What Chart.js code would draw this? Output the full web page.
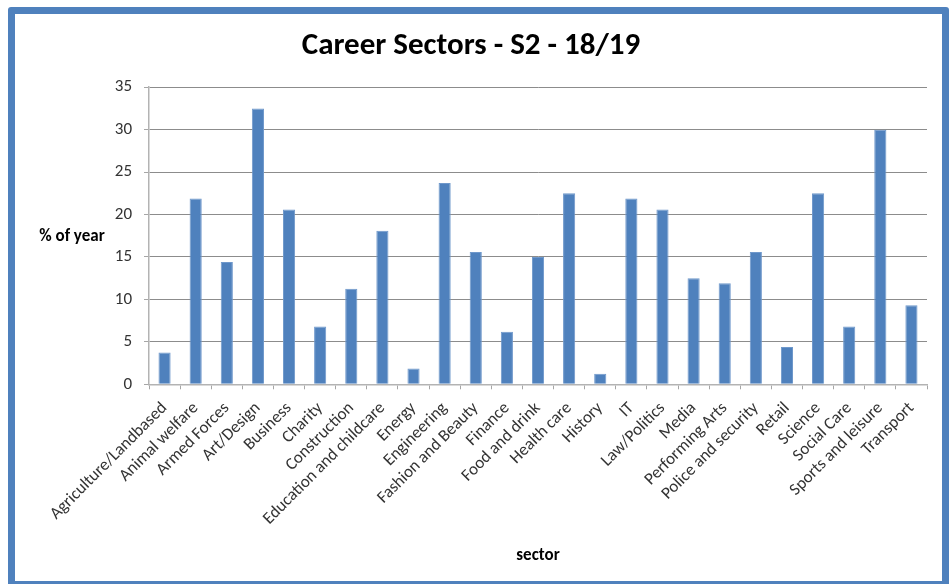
<!DOCTYPE html>
<html>
<head>
<meta charset="utf-8">
<script src="https://cdn.jsdelivr.net/npm/chart.js@4.4.1/dist/chart.umd.min.js"></script>
<style>
    html, body { margin: 0; padding: 0; background: #fff; overflow: hidden; }
    #frame {
        position: absolute;
        left: 8px;
        top: 7px;
        width: 941px;
        height: 581px;
        border: 7px solid #4F81BD;
        border-radius: 3px;
        box-sizing: border-box;
        background: #fff;
    }
    canvas { display: block; }
</style>
</head>
<body>
<div id="frame"><canvas id="sectorChart" width="927" height="567"></canvas></div>
<script>
// sectors along the x axis
const sectors = [
    'Agriculture/Landbased', 'Animal welfare', 'Armed Forces', 'Art/Design', 'Business',
    'Charity', 'Construction', 'Education and childcare', 'Energy', 'Engineering',
    'Fashion and Beauty', 'Finance', 'Food and drink', 'Health care', 'History',
    'IT', 'Law/Politics', 'Media', 'Performing Arts', 'Police and security',
    'Retail', 'Science', 'Social Care', 'Sports and leisure', 'Transport'
];

// % of year choosing each sector
const percentOfYear = [
    3.75, 21.9, 14.4, 32.5, 20.6,
    6.8, 11.25, 18.1, 1.85, 23.7,
    15.6, 6.2, 15.0, 22.5, 1.25,
    21.9, 20.6, 12.5, 11.9, 15.6,
    4.4, 22.5, 6.8, 30.0, 9.3
];

// y axis tick values
const yTicks = [0, 5, 10, 15, 20, 25, 30, 35];

const fontFamily = 'Carlito, Calibri, "Liberation Sans Narrow", "Open Sans", sans-serif';

// draws the horizontal "% of year" label left of the axis
const yTitlePlugin = {
    id: 'yTitle',
    afterDraw(chart) {
        const ctx = chart.ctx;
        const area = chart.chartArea;
        ctx.save();
        ctx.font = 'bold 17px ' + fontFamily;
        ctx.fillStyle = '#000';
        ctx.textAlign = 'center';
        ctx.textBaseline = 'middle';
        ctx.fillText('% of year', 57, (area.top + area.bottom) / 2 + 1);
        ctx.restore();
    }
};

const ctx = document.getElementById('sectorChart').getContext('2d');
new Chart(ctx, {
    type: 'bar',
    data: {
        labels: sectors,
        datasets: [{
            label: '% of year',
            data: percentOfYear,
            backgroundColor: '#4F81BD',
            borderColor: '#6f98cb',
            borderWidth: 1,
            categoryPercentage: 1,
            barPercentage: 0.39
        }]
    },
    options: {
        responsive: false,
        animation: false,
        layout: {
            padding: { left: 0, right: 15, top: 0, bottom: 15 }
        },
        plugins: {
            legend: { display: false },
            tooltip: { enabled: false },
            title: {
                display: true,
                text: 'Career Sectors - S2 - 18/19',
                color: '#000',
                font: { family: fontFamily, size: 31, weight: 'bold' },
                padding: { top: 14, bottom: 22 }
            }
        },
        scales: {
            x: {
                afterFit: scale => {
                    scale.height = 181.7;
                },
                grid: {
                    offset: true,
                    drawOnChartArea: false,
                    tickLength: 5,
                    color: '#a6a6a6'
                },
                border: { color: '#b3b3b3', width: 1.5 },
                ticks: {
                    autoSkip: false,
                    minRotation: 45,
                    maxRotation: 45,
                    padding: 9,
                    color: '#333',
                    font: { family: fontFamily, size: 17 }
                },
                title: {
                    display: true,
                    text: 'sector',
                    color: '#000',
                    font: { family: fontFamily, size: 17, weight: 'bold' },
                    padding: { top: 0, bottom: 0 }
                }
            },
            y: {
                min: 0,
                max: 35,
                afterBuildTicks: scale => {
                    scale.ticks = yTicks.map(v => ({ value: v }));
                },
                afterFit: scale => {
                    scale.width = 134;
                },
                grid: {
                    color: '#8c8c8c',
                    tickLength: 5,
                    tickColor: '#a6a6a6'
                },
                border: { color: '#b3b3b3', width: 1.5 },
                ticks: {
                    padding: 12,
                    color: '#333',
                    font: { family: fontFamily, size: 17 }
                }
            }
        }
    },
    plugins: [yTitlePlugin]
});
</script>
</body>
</html>
